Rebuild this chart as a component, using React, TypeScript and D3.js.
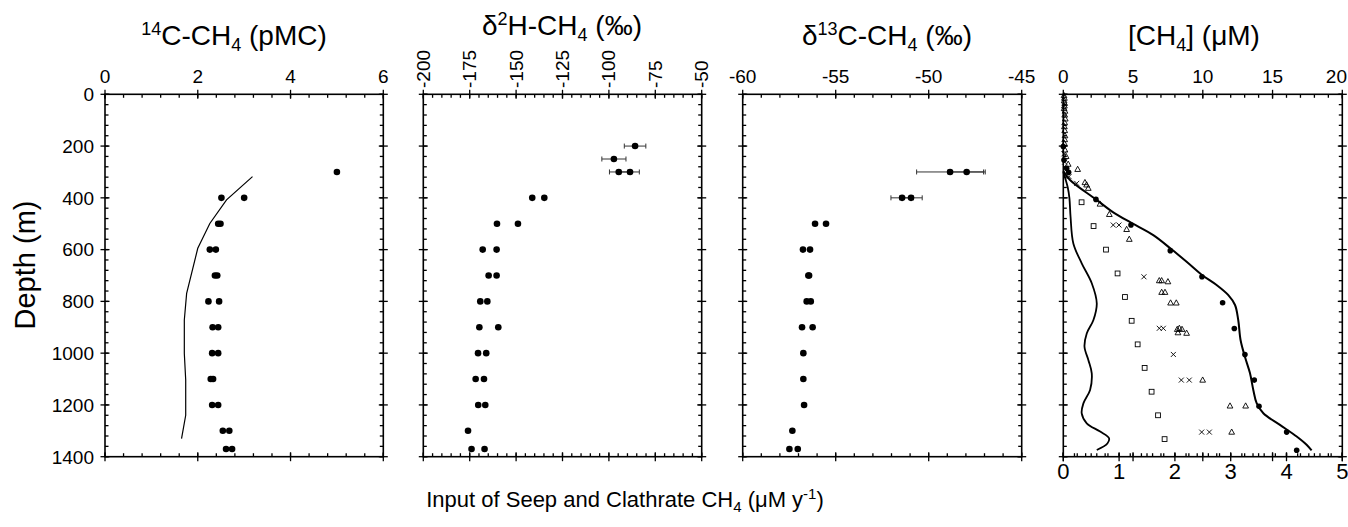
import React from 'react';
import * as d3 from 'd3';

// ---------- DATA ----------
// Panel 1: 14C-CH4 (pMC)
const c14Depth = [300, 400, 400, 500, 500, 600, 600, 700, 700, 800, 800, 900, 900, 1000, 1000, 1100, 1100, 1200, 1200, 1300, 1300, 1370, 1370];
const c14Value = [5.0, 2.51, 3.0, 2.44, 2.49, 2.26, 2.39, 2.37, 2.42, 2.23, 2.46, 2.32, 2.44, 2.31, 2.44, 2.28, 2.33, 2.31, 2.44, 2.54, 2.68, 2.61, 2.74];
const c14ModelDepth = [318, 408, 499, 595, 769, 872, 1001, 1104, 1240, 1330];
const c14ModelValue = [3.18, 2.62, 2.26, 2.0, 1.76, 1.71, 1.71, 1.74, 1.74, 1.65];

// Panel 2: d2H-CH4 (permil)
const d2hDepth = [200, 250, 300, 300, 400, 400, 500, 500, 600, 600, 700, 700, 800, 800, 900, 900, 1000, 1000, 1100, 1100, 1200, 1200, 1300, 1370, 1370];
const d2hValue = [-85.9, -97.3, -94.7, -88.6, -141.3, -134.8, -160.3, -149.0, -168.0, -160.5, -164.8, -160.5, -169.3, -165.5, -169.8, -159.6, -170.5, -166.1, -171.8, -167.3, -170.4, -166.6, -175.9, -174.0, -167.0];
const d2hError = [5.8, 6.5, 5.0, 5.0, 0, 0, 0, 0, 0, 0, 0, 0, 0, 0, 0, 0, 0, 0, 0, 0, 0, 0, 0, 0, 0];

// Panel 3: d13C-CH4 (permil)
const d13Depth = [300, 300, 400, 400, 500, 500, 600, 600, 700, 700, 800, 800, 900, 900, 1000, 1100, 1200, 1300, 1370, 1370];
const d13Value = [-48.85, -47.96, -51.43, -50.95, -56.11, -55.52, -56.76, -56.38, -56.47, -56.43, -56.56, -56.34, -56.81, -56.24, -56.74, -56.74, -56.7, -57.33, -57.49, -57.04];
const d13Error = [1.8, 1.0, 0.6, 0.6, 0, 0, 0, 0, 0, 0, 0, 0, 0, 0, 0, 0, 0, 0, 0, 0];

// Panel 4: [CH4] (uM) observations and model; input (uM/y) on bottom scale
const ch4CircleDepth = [202, 254, 286, 301, 406, 505, 604, 705, 805, 905, 1005, 1104, 1205, 1305, 1375];
const ch4CircleValue = [0, 0.05, 0.24, 0.38, 2.34, 4.85, 7.67, 9.94, 11.42, 12.26, 13.02, 13.69, 14.03, 16.01, 16.73];
const ch4SquareDepth = [417, 509, 600, 692, 783, 875, 966, 1057, 1149, 1240, 1332];
const ch4SquareValue = [1.31, 2.17, 3.06, 3.89, 4.42, 4.9, 5.33, 5.83, 6.33, 6.79, 7.26];
const ch4CrossDepth = [230, 262, 318, 344, 505, 505, 705, 904, 904, 1005, 1104, 1104, 1305, 1305];
const ch4CrossValue = [0.05, 0.1, 0.41, 0.96, 3.58, 3.99, 5.78, 6.88, 7.17, 7.89, 8.46, 9.03, 9.92, 10.47];
const ch4TriangleDepth = [5, 15, 25, 35, 45, 55, 65, 80, 95, 110, 125, 140, 160, 175, 190, 215, 240, 270, 290, 341, 350, 363, 424, 464, 522, 560, 720, 720, 724, 765, 765, 806, 806, 908, 904, 908, 921, 923, 1104, 1204, 1204, 1305];
const ch4TriangleValue = [0.05, 0.08, 0.06, 0.1, 0.08, 0.06, 0.12, 0.1, 0.14, 0.1, 0.08, 0.1, 0.12, 0.1, 0.08, 0.12, 0.2, 0.35, 1.03, 1.55, 1.67, 1.79, 2.63, 3.3, 4.54, 4.73, 6.88, 7.05, 7.5, 7.05, 7.29, 7.69, 8.1, 8.17, 8.32, 8.51, 8.22, 8.84, 9.99, 11.95, 13.07, 12.07];
const ch4ModelDepth = [296, 331, 406, 456, 496, 544, 595, 647, 698, 737, 776, 814, 872, 950, 1014, 1077, 1142, 1193, 1232, 1277, 1322, 1354, 1376];
const ch4ModelValue = [0, 0.48, 2.34, 3.58, 4.85, 6.45, 7.67, 8.84, 9.94, 10.99, 11.83, 12.31, 12.54, 12.71, 13.02, 13.38, 13.62, 13.86, 14.34, 15.53, 16.73, 17.44, 17.8];
const inputDepth = [300, 360, 402, 473, 576, 653, 730, 808, 872, 924, 975, 1027, 1078, 1142, 1194, 1233, 1271, 1303, 1329, 1349, 1374];
const inputValue = [0.0, 0.08, 0.11, 0.13, 0.18, 0.33, 0.51, 0.6, 0.54, 0.42, 0.38, 0.45, 0.51, 0.48, 0.36, 0.33, 0.42, 0.66, 0.82, 0.79, 0.6];

// Axis ticks
const depthTicks = [0, 200, 400, 600, 800, 1000, 1200, 1400];
const p1Ticks = [0, 2, 4, 6];
const p2Ticks = [-200, -175, -150, -125, -100, -75, -50];
const p3Ticks = [-60, -55, -50, -45];
const p4TopTicks = [0, 5, 10, 15, 20];
const p4BottomTicks = [0, 1, 2, 3, 4, 5];

// ---------- LAYOUT ----------
const W = 1348;
const H = 527;
const TOP = 94.3;
const BOTTOM = 456.7;
const PW = 279;
const FONT = "'Liberation Sans', Arial, Helvetica, sans-serif";

const y = d3.scaleLinear().domain([0, 1400]).range([TOP, BOTTOM]);
const depthMinor = d3.range(0, 1400.001, 40);

function minorRange(d0: number, d1: number, step: number) {
  const n = Math.round((d1 - d0) / step);
  return d3.range(0, n + 1).map((i) => d0 + i * step);
}

function Frame({ x, minor, majors }: { x: d3.ScaleLinear<number, number>; minor: number[]; majors: number[] }) {
  const [L, R] = x.range();
  const out: React.ReactNode[] = [];
  const MJ = 4.5;
  const MN = 3.5;
  majors.forEach((v, i) => {
    const px = x(v);
    out.push(<line key={`tm${i}`} x1={px} x2={px} y1={TOP - MJ} y2={TOP + MJ} />);
    out.push(<line key={`bm${i}`} x1={px} x2={px} y1={BOTTOM - MJ} y2={BOTTOM + MJ} />);
  });
  minor.forEach((v, i) => {
    const px = x(v);
    out.push(<line key={`tn${i}`} x1={px} x2={px} y1={TOP} y2={TOP + MN} />);
    out.push(<line key={`bn${i}`} x1={px} x2={px} y1={BOTTOM - MN} y2={BOTTOM} />);
  });
  depthTicks.forEach((d, i) => {
    const py = y(d);
    out.push(<line key={`lm${i}`} x1={L - MJ} x2={L + MJ} y1={py} y2={py} />);
    out.push(<line key={`rm${i}`} x1={R - MJ} x2={R + MJ} y1={py} y2={py} />);
  });
  depthMinor.forEach((d, i) => {
    const py = y(d);
    out.push(<line key={`ln${i}`} x1={L} x2={L + MN} y1={py} y2={py} />);
    out.push(<line key={`rn${i}`} x1={R - MN} x2={R} y1={py} y2={py} />);
  });
  return (
    <g stroke="#000" strokeWidth={1.3} fill="none">
      <rect x={L} y={TOP} width={R - L} height={BOTTOM - TOP} strokeWidth={1.6} />
      {out}
    </g>
  );
}

function Dots({ x, vals, depths, r = 3 }: { x: d3.ScaleLinear<number, number>; vals: number[]; depths: number[]; r?: number }) {
  return (
    <g fill="#000">
      {vals.map((v, i) => (
        <circle key={i} cx={x(v)} cy={y(depths[i])} r={r} />
      ))}
    </g>
  );
}

function ErrorBars({ x, vals, depths, errs }: { x: d3.ScaleLinear<number, number>; vals: number[]; depths: number[]; errs: number[] }) {
  return (
    <g stroke="#333" strokeWidth={1}>
      {vals.map((v, i) => {
        if (!errs[i]) return null;
        const py = y(depths[i]);
        const a = x(v - errs[i]);
        const b = x(v + errs[i]);
        return (
          <g key={i}>
            <line x1={a} x2={b} y1={py} y2={py} />
            <line x1={a} x2={a} y1={py - 2.5} y2={py + 2.5} />
            <line x1={b} x2={b} y1={py - 2.5} y2={py + 2.5} />
          </g>
        );
      })}
    </g>
  );
}

export default function App() {
  const lefts = [105, 423.3, 742.7, 1063.3];
  const x1 = d3.scaleLinear().domain([0, 6]).range([lefts[0], lefts[0] + PW - 0.7]);
  const x2 = d3.scaleLinear().domain([-200, -50]).range([lefts[1], lefts[1] + PW - 0.6]);
  const x3 = d3.scaleLinear().domain([-60, -45]).range([lefts[2], lefts[2] + PW]);
  const x4 = d3.scaleLinear().domain([0, 20]).range([lefts[3], lefts[3] + PW]);
  const x4b = d3.scaleLinear().domain([0, 5]).range([lefts[3], lefts[3] + PW]);

  const line1 = d3
    .line<number>()
    .x((_, i) => x1(c14ModelValue[i]))
    .y((d) => y(d))(c14ModelDepth);
  const line4 = d3
    .line<number>()
    .x((_, i) => x4(ch4ModelValue[i]))
    .y((d) => y(d))
    .curve(d3.curveCatmullRom.alpha(0.5))(ch4ModelDepth);
  const line4b = d3
    .line<number>()
    .x((_, i) => x4b(inputValue[i]))
    .y((d) => y(d))
    .curve(d3.curveCatmullRom.alpha(0.5))(inputDepth);

  const tickFont = 19;
  const labelY = 83;

  const topLabels = (x: d3.ScaleLinear<number, number>, ticks: number[], clampRight = false) =>
    ticks.map((t, i) => {
      const px = x(t);
      const last = clampRight && i === ticks.length - 1;
      return (
        <text key={i} x={last ? W - 1 : px} y={labelY} textAnchor={last ? 'end' : 'middle'} fontSize={tickFont}>
          {String(t)}
        </text>
      );
    });

  const tri = (cx: number, cy: number, s: number) =>
    `M${cx},${cy - s * 0.6}L${cx + s * 0.55},${cy + s * 0.4}L${cx - s * 0.55},${cy + s * 0.4}Z`;

  return (
    <svg
      width={W}
      height={H}
      viewBox={`0 0 ${W} ${H}`}
      style={{ position: 'absolute', left: 0, top: 0, background: '#fff' }}
      fontFamily={FONT}
    >
      <rect width={W} height={H} fill="#fff" />

      {/* Panel 1 */}
      <Frame x={x1} majors={p1Ticks} minor={minorRange(0, 6, 0.4)} />
      {topLabels(x1, p1Ticks)}
      {depthTicks.map((d, i) => (
        <text key={i} x={lefts[0] - 11} y={y(d)} dy="0.36em" textAnchor="end" fontSize={tickFont}>
          {String(d)}
        </text>
      ))}
      <path d={line1 || ''} fill="none" stroke="#000" strokeWidth={1.2} />
      <Dots x={x1} vals={c14Value} depths={c14Depth} r={3.3} />
      <text x={234} y={45} textAnchor="middle" fontSize={28}>
        <tspan fontSize={18} dy={-10}>14</tspan>
        <tspan dy={10}>C-CH</tspan>
        <tspan fontSize={18} dy={6}>4</tspan>
        <tspan dy={-6}> (pMC)</tspan>
      </text>
      <text transform={`translate(35,265) rotate(-90)`} textAnchor="middle" fontSize={29}>
        Depth (m)
      </text>

      {/* Panel 2 */}
      <Frame x={x2} majors={p2Ticks} minor={minorRange(-200, -50, 5)} />
      {p2Ticks.map((t, i) => (
        <text key={i} transform={`translate(${x2(t) + 6.5},88) rotate(-90)`} textAnchor="start" fontSize={tickFont}>
          {String(t)}
        </text>
      ))}
      <ErrorBars x={x2} vals={d2hValue} depths={d2hDepth} errs={d2hError} />
      <Dots x={x2} vals={d2hValue} depths={d2hDepth} r={3.3} />
      <text x={562} y={35} textAnchor="middle" fontSize={28}>
        <tspan>δ</tspan>
        <tspan fontSize={18} dy={-10}>2</tspan>
        <tspan dy={10}>H-CH</tspan>
        <tspan fontSize={18} dy={6}>4</tspan>
        <tspan dy={-6}> (‰)</tspan>
      </text>

      {/* Panel 3 */}
      <Frame x={x3} majors={p3Ticks} minor={minorRange(-60, -45, 1)} />
      {topLabels(x3, p3Ticks)}
      <ErrorBars x={x3} vals={d13Value} depths={d13Depth} errs={d13Error} />
      <Dots x={x3} vals={d13Value} depths={d13Depth} r={3.3} />
      <text x={887} y={45} textAnchor="middle" fontSize={28}>
        <tspan>δ</tspan>
        <tspan fontSize={18} dy={-10}>13</tspan>
        <tspan dy={10}>C-CH</tspan>
        <tspan fontSize={18} dy={6}>4</tspan>
        <tspan dy={-6}> (‰)</tspan>
      </text>

      {/* Panel 4 */}
      <Frame x={x4} majors={p4TopTicks} minor={minorRange(0, 20, 1)} />
      <g stroke="#000" strokeWidth={1.3}>
        {minorRange(0, 5, 0.2).map((v, i) => (
          <line key={i} x1={x4b(v)} x2={x4b(v)} y1={BOTTOM - 3.5} y2={BOTTOM} />
        ))}
        {p4BottomTicks.map((v, i) => (
          <line key={`b${i}`} x1={x4b(v)} x2={x4b(v)} y1={BOTTOM - 4.5} y2={BOTTOM + 4.5} />
        ))}
      </g>
      {topLabels(x4, p4TopTicks, true)}
      {p4BottomTicks.map((t, i) => (
        <text key={i} x={x4b(t)} y={479} textAnchor="middle" fontSize={22}>
          {String(t)}
        </text>
      ))}
      <path d={line4 || ''} fill="none" stroke="#000" strokeWidth={2} />
      <path d={line4b || ''} fill="none" stroke="#000" strokeWidth={1.8} />
      <g fill="none" stroke="#000" strokeWidth={0.9}>
        {ch4SquareValue.map((v, i) => (
          <rect key={i} x={x4(v) - 2.4} y={y(ch4SquareDepth[i]) - 2.4} width={4.8} height={4.8} />
        ))}
        {ch4TriangleValue.map((v, i) => (
          <path key={i} d={tri(x4(v), y(ch4TriangleDepth[i]), 5.2)} />
        ))}
        {ch4CrossValue.map((v, i) => {
          const cx = x4(v);
          const cy = y(ch4CrossDepth[i]);
          const s = 2.5;
          return <path key={i} d={`M${cx - s},${cy - s}L${cx + s},${cy + s}M${cx + s},${cy - s}L${cx - s},${cy + s}`} />;
        })}
      </g>
      <Dots x={x4} vals={ch4CircleValue} depths={ch4CircleDepth} r={2.8} />
      <text x={1194} y={45} textAnchor="middle" fontSize={28}>
        <tspan>[CH</tspan>
        <tspan fontSize={18} dy={6}>4</tspan>
        <tspan dy={-6}>] (μM)</tspan>
      </text>

      {/* Bottom label */}
      <text x={625} y={507} textAnchor="middle" fontSize={22}>
        <tspan>Input of Seep and Clathrate CH</tspan>
        <tspan fontSize={15} dy={5}>4</tspan>
        <tspan dy={-5}> (μM y</tspan>
        <tspan fontSize={15} dy={-8}>-1</tspan>
        <tspan dy={8}>)</tspan>
      </text>
    </svg>
  );
}
